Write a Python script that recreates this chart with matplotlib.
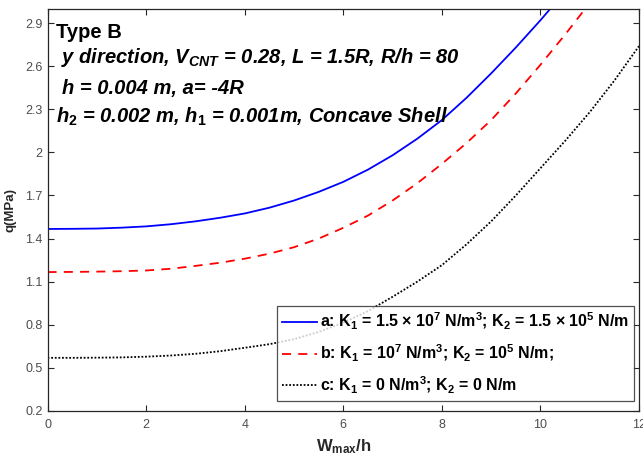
import matplotlib
matplotlib.use("Agg")
import matplotlib.pyplot as plt

plt.rcParams["font.family"] = ["Liberation Sans", "DejaVu Sans"]
plt.rcParams["mathtext.fontset"] = "custom"
plt.rcParams["mathtext.rm"] = "Liberation Sans:bold"
plt.rcParams["mathtext.it"] = "Liberation Sans:bold:italic"
plt.rcParams["mathtext.bf"] = "Liberation Sans:bold"

# deflection ratio W_max/h
w_ratio = [0, 0.5, 1, 1.5, 2, 2.5, 3, 3.5, 4, 4.5, 5, 5.5, 6, 6.5,
           7, 7.5, 8, 8.5, 9, 9.5, 10, 10.5, 11, 11.5, 12]

# q (MPa) for the three foundation cases
q_a = [1.467, 1.468, 1.47, 1.476, 1.485, 1.50, 1.52, 1.545, 1.575, 1.615,
       1.665, 1.725, 1.795, 1.88, 1.98, 2.095, 2.225, 2.38, 2.55, 2.73,
       2.92, 3.12, 3.34, 3.58, 3.83]
q_b = [1.167, 1.168, 1.17, 1.173, 1.178, 1.19, 1.21, 1.232, 1.26, 1.295,
       1.34, 1.40, 1.475, 1.56, 1.665, 1.785, 1.92, 2.065, 2.225, 2.41,
       2.61, 2.82, 3.04, 3.28, 3.53]
q_c = [0.57, 0.57, 0.571, 0.573, 0.578, 0.586, 0.598, 0.616, 0.64, 0.665,
       0.70, 0.75, 0.815, 0.895, 0.995, 1.10, 1.215, 1.36, 1.52, 1.70,
       1.89, 2.08, 2.28, 2.50, 2.74]

label_a = r"a: K$_1$ = 1.5 $\times$ 10$^7$ N/m$^3$; K$_2$ = 1.5 $\times$ 10$^5$ N/m"
label_b = r"b: K$_1$ = 10$^7$ N/m$^3$; K$_2$ = 10$^5$ N/m;"
label_c = r"c: K$_1$ = 0 N/m$^3$; K$_2$ = 0 N/m"

x_ticks = [0, 2, 4, 6, 8, 10, 12]
y_ticks = [0.2, 0.5, 0.8, 1.1, 1.4, 1.7, 2, 2.3, 2.6, 2.9]

fig = plt.figure(figsize=(6.43, 4.57), dpi=100)
ax = fig.add_axes([0.074, 0.1007, 0.9198, 0.8789])

ax.plot(w_ratio, q_a, color="#0000ff", linewidth=1.3, label=label_a)
ax.plot(w_ratio, q_b, color="#ff0000", linewidth=1.3, linestyle=(0, (5, 4)), label=label_b)
ax.plot(w_ratio, q_c, color="black", linewidth=1.3, linestyle=(0, (1, 1)), label=label_c)

ax.set_xlim(0, 12)
ax.set_ylim(0.2, 2.996)
ax.set_xticks(x_ticks)
ax.set_yticks(y_ticks)
ax.set_xticklabels([str(t) for t in x_ticks])
ax.set_yticklabels([f"{t:g}" for t in y_ticks])
ax.tick_params(direction="in", top=True, right=True, labelsize=9,
               labelcolor="#4d4d4d", color="#262626", length=4, width=0.8)
ax.tick_params(axis="x", pad=6)
for s in ax.spines.values():
    s.set_color("#262626")
    s.set_linewidth(0.9)

ax.set_xlabel(r"W$_{\mathrm{max}}$/h", fontsize=12, fontweight="bold", color="#262626")
ax.set_ylabel("q(MPa)", fontsize=9.5, fontweight="bold", color="#262626")
ax.xaxis.set_label_coords(0.5, -0.065)
ax.yaxis.set_label_coords(-0.052, 0.5)

fig.text(56 / 643, 1 - 37.7 / 457, "Type B", fontsize=14.5, fontweight="bold")
fig.text(61 / 643, 1 - 63.3 / 457, r"y direction, V$_{CNT}$ = 0.28, L = 1.5R, R/h = 80",
         fontsize=14.5, fontweight="bold", style="italic")
fig.text(62 / 643, 1 - 94.3 / 457, "h = 0.004 m, a= -4R",
         fontsize=14.5, fontweight="bold", style="italic")
fig.text(56 / 643, 1 - 122.7 / 457, r"h$_2$ = 0.002 m, h$_{\mathit{1}}$ = 0.001m, Concave Shell",
         fontsize=14.5, fontweight="bold", style="italic")

leg = ax.legend(loc="lower right", bbox_to_anchor=(0.9967, 0.018),
                prop={"weight": "bold", "size": 11.5}, frameon=True, fancybox=False,
                edgecolor="#262626", handlelength=2.2, handletextpad=0.2,
                labelspacing=0.68, borderpad=0.3, borderaxespad=0.2)
leg.get_frame().set_linewidth(0.9)

fig.savefig("out.png", dpi=100)
